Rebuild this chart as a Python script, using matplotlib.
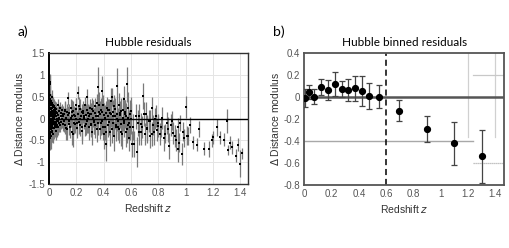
import numpy as np
import matplotlib.pyplot as plt

# panel a) individual supernova residuals
z_low = [0.004,0.005,0.006,0.007,0.008,0.009,0.010,0.011,0.012,0.013,
         0.014,0.015,0.016,0.017,0.018,0.019,0.020,0.021,0.022,0.023,
         0.024,0.025,0.026,0.027,0.028,0.029,0.030,0.031,0.032,0.034,
         0.036,0.038,0.040,0.042,0.044,0.046,0.048,0.050,0.052,0.054,
         0.056,0.058,0.060,0.062,0.064,0.066,0.068,0.070,0.073,0.076,
         0.079,0.082,0.085,0.088,0.091,0.094,0.097,0.100,0.103,0.106]
mu_low = [0.83,0.35,-0.20,0.45,0.10,-0.35,0.80,0.22,-0.05,0.30,
          -0.25,0.05,0.15,-0.40,0.40,0.00,-0.15,0.25,-0.30,0.12,
          0.50,-0.10,0.05,-0.22,0.30,0.18,-0.05,-0.35,0.08,0.20,
          -0.12,0.02,0.28,-0.20,0.10,-0.08,0.15,-0.28,0.05,0.22,
          -0.15,0.00,0.12,-0.05,0.30,-0.20,0.08,-0.10,0.18,0.02,
          -0.15,0.25,0.05,-0.08,0.12,-0.02,0.20,0.10,-0.12,0.06]
err_low = [0.18,0.22,0.30,0.15,0.25,0.32,0.20,0.18,0.28,0.22,
           0.25,0.20,0.18,0.30,0.16,0.22,0.26,0.18,0.24,0.20,
           0.15,0.22,0.18,0.25,0.20,0.16,0.24,0.20,0.18,0.15,
           0.20,0.18,0.16,0.22,0.15,0.20,0.14,0.22,0.18,0.15,
           0.18,0.16,0.14,0.20,0.15,0.18,0.16,0.20,0.14,0.18,
           0.16,0.14,0.18,0.15,0.16,0.20,0.14,0.18,0.16,0.15]

z_low2 = [0.003,0.0045,0.0055,0.0065,0.0075,0.0085,0.0095,0.0105,0.0115,0.0125,
          0.0135,0.0145,0.0155,0.0165,0.0175,0.0185,0.0195,0.0205,0.0215,0.0225,
          0.0235,0.0245,0.0255,0.0265,0.0275,0.0285,0.0295,0.033,0.035,0.037,
          0.039,0.041,0.043,0.045,0.047,0.051,0.055,0.059,0.063,0.067]
mu_low2 = [0.20,-0.45,0.55,-0.10,0.25,0.05,-0.25,0.40,0.15,-0.30,
           0.10,-0.15,0.30,0.00,-0.20,0.22,-0.05,0.12,0.35,-0.18,
           0.08,-0.28,0.18,0.02,-0.12,0.26,-0.08,0.10,-0.22,0.15,
           -0.02,0.20,-0.15,0.05,0.25,-0.10,0.14,-0.20,0.08,-0.05]
err_low2 = [0.25,0.28,0.20,0.30,0.22,0.25,0.30,0.18,0.22,0.28,
            0.20,0.25,0.18,0.22,0.26,0.20,0.24,0.22,0.18,0.25,
            0.20,0.26,0.18,0.22,0.24,0.16,0.22,0.20,0.24,0.18,
            0.20,0.16,0.22,0.18,0.15,0.20,0.16,0.22,0.18,0.16]

z_mid = [0.11,0.115,0.12,0.125,0.13,0.135,0.14,0.145,0.15,0.155,
         0.16,0.165,0.17,0.175,0.18,0.185,0.19,0.195,0.20,0.205,
         0.21,0.215,0.22,0.225,0.23,0.235,0.24,0.245,0.25,0.255,
         0.26,0.265,0.27,0.275,0.28,0.285,0.29,0.295,0.30,0.305,
         0.31,0.315,0.32,0.325,0.33,0.335,0.34,0.345,0.35,0.355,
         0.36,0.365,0.37,0.375,0.38,0.385,0.39,0.395,0.40,0.405,
         0.41,0.415,0.42,0.425,0.43,0.435,0.44,0.445,0.45,0.455,
         0.46,0.465,0.47,0.475,0.48,0.485,0.49,0.495,0.50,0.505,
         0.51,0.515,0.52,0.525,0.53,0.535,0.54,0.545,0.55,0.555,
         0.56,0.565,0.57,0.575,0.58,0.585,0.59,0.595,0.60,0.605]
mu_mid = [0.10,-0.15,0.20,0.02,-0.25,0.15,0.46,-0.05,0.12,-0.20,
          0.25,0.05,-0.30,0.18,-0.10,0.08,-0.12,0.30,0.00,-0.22,
          0.59,0.10,-0.08,0.22,-0.15,0.05,0.15,-0.28,0.12,0.02,
          -0.18,0.30,0.08,-0.05,0.49,0.12,-0.20,0.05,0.25,-0.12,
          0.10,-0.30,0.02,0.18,-0.08,0.28,-0.15,0.05,0.35,0.72,
          -0.10,0.15,0.10,-0.25,0.20,0.62,-0.05,0.30,-0.35,0.08,
          -0.20,0.12,-0.58,0.25,0.05,-0.15,0.20,-0.30,0.10,0.40,
          0.49,-0.10,0.15,-0.40,0.05,0.22,-0.20,0.10,0.75,-0.05,
          0.30,-0.25,0.08,-0.12,0.18,-0.35,0.02,0.45,-0.10,0.15,
          -0.30,0.05,0.79,-0.15,0.25,-0.45,0.10,-0.20,0.00,-0.58]
err_mid = [0.15,0.20,0.18,0.22,0.25,0.18,0.15,0.20,0.22,0.25,
           0.20,0.18,0.30,0.22,0.25,0.20,0.22,0.18,0.25,0.22,
           0.15,0.20,0.28,0.22,0.25,0.20,0.18,0.30,0.22,0.25,
           0.22,0.20,0.25,0.28,0.18,0.22,0.30,0.25,0.20,0.28,
           0.25,0.30,0.22,0.25,0.28,0.20,0.30,0.25,0.22,0.45,
           0.28,0.25,0.30,0.22,0.28,0.35,0.30,0.25,0.35,0.28,
           0.30,0.28,0.40,0.25,0.30,0.28,0.25,0.32,0.30,0.30,
           0.20,0.30,0.28,0.35,0.30,0.25,0.32,0.30,0.40,0.30,
           0.28,0.32,0.30,0.28,0.30,0.35,0.30,0.30,0.32,0.28,
           0.35,0.30,0.40,0.32,0.35,0.30,0.32,0.30,0.35,0.30]

z_mid2 = [0.108,0.118,0.128,0.138,0.148,0.158,0.168,0.178,0.188,0.198,
          0.208,0.218,0.228,0.238,0.248,0.258,0.268,0.278,0.288,0.298,
          0.308,0.318,0.328,0.338,0.348,0.358,0.368,0.378,0.388,0.398,
          0.408,0.418,0.428,0.438,0.448,0.458,0.468,0.478,0.488,0.498,
          0.508,0.518,0.528,0.538,0.548,0.558,0.568,0.578,0.588,0.598,
          0.615,0.635,0.655,0.675,0.695,0.715,0.735,0.755,0.775,0.795]
mu_mid2 = [-0.05,0.18,-0.22,0.08,-0.12,0.02,0.15,-0.35,0.05,0.22,
           -0.10,0.28,0.00,-0.20,0.18,0.06,-0.12,0.20,-0.02,0.10,
           -0.15,0.22,-0.05,0.12,-0.25,0.05,0.30,-0.10,0.15,-0.20,
           0.02,-0.30,0.20,-0.08,0.12,-0.25,0.05,0.28,-0.15,0.00,
           -0.20,0.12,-0.30,0.20,-0.05,0.10,-0.25,0.02,-0.10,0.18,
           -0.20,0.05,-0.30,-0.12,0.10,-0.22,-0.05,-0.35,0.00,-0.18]
err_mid2 = [0.25,0.22,0.28,0.20,0.25,0.22,0.28,0.30,0.22,0.25,
            0.28,0.22,0.25,0.30,0.22,0.28,0.25,0.22,0.30,0.25,
            0.28,0.25,0.30,0.22,0.28,0.25,0.30,0.28,0.25,0.30,
            0.28,0.32,0.25,0.30,0.28,0.30,0.32,0.25,0.30,0.28,
            0.30,0.28,0.32,0.30,0.28,0.32,0.30,0.28,0.30,0.32,
            0.30,0.28,0.30,0.25,0.28,0.30,0.25,0.28,0.25,0.25]

z_high = [0.62,0.64,0.65,0.66,0.67,0.68,0.69,0.70,0.71,0.72,
          0.73,0.74,0.75,0.76,0.77,0.78,0.79,0.80,0.81,0.82,
          0.83,0.84,0.85,0.86,0.87,0.88,0.89,0.90,0.91,0.92,
          0.93,0.94,0.945,0.95,0.96,0.97,0.98,0.99,1.00,1.01,
          1.02,1.03,1.05,1.08,1.10,1.13,1.17,1.19,1.20,1.23,
          1.25,1.28,1.30,1.31,1.32,1.34,1.37,1.38,1.40,1.41]
mu_high = [-0.58,-0.77,-0.10,0.05,-0.30,-0.20,0.51,-0.35,0.10,-0.25,
           -0.05,-0.40,0.24,-0.15,-0.30,0.05,-0.27,-0.10,-0.35,-0.20,
           0.02,-0.45,-0.35,-0.10,-0.25,-0.62,-0.15,-0.05,-0.33,-0.40,
           -0.50,-0.20,-0.69,-0.55,-0.10,-0.81,-0.30,-0.45,0.26,-0.39,
           -0.40,-0.15,-0.54,-0.60,-0.24,-0.69,-0.69,-0.50,-0.43,-0.20,
           -0.43,-0.49,-0.05,-0.72,-0.55,-0.66,-0.85,-0.60,-1.03,-0.80]
err_high = [0.30,0.35,0.30,0.28,0.30,0.25,0.30,0.25,0.28,0.30,
            0.25,0.28,0.25,0.22,0.30,0.25,0.25,0.20,0.25,0.22,
            0.25,0.30,0.22,0.25,0.28,0.30,0.25,0.22,0.25,0.25,
            0.25,0.22,0.30,0.22,0.18,0.25,0.22,0.20,0.25,0.22,
            0.20,0.18,0.15,0.15,0.18,0.15,0.18,0.15,0.15,0.20,
            0.15,0.15,0.28,0.12,0.15,0.15,0.15,0.15,0.30,0.12]

# panel b) binned residuals
z_bin = [0.007,0.034,0.071,0.125,0.171,0.225,0.274,0.323,0.372,0.424,0.472,0.548,
         0.695,0.898,1.099,1.30]
mu_bin = [-0.012,0.042,0.003,0.088,0.060,0.118,0.073,0.063,0.079,0.054,0.006,0.003,
          -0.127,-0.293,-0.420,-0.540]
err_bin = [0.08,0.065,0.07,0.07,0.09,0.11,0.07,0.10,0.115,0.14,0.12,0.105,
           0.095,0.118,0.196,0.24]

plt.rcParams['font.family'] = ['Liberation Sans', 'DejaVu Sans']
tick_col = '#555555'

fig = plt.figure(figsize=(5.1, 2.48), dpi=100)
ax1 = fig.add_axes([0.096, 0.258, 0.390, 0.528])
ax2 = fig.add_axes([0.597, 0.254, 0.392, 0.533])

# ---- a)
z_all = z_low + z_low2 + z_mid + z_mid2 + z_high
mu_all = mu_low + mu_low2 + mu_mid + mu_mid2 + mu_high
err_all = err_low + err_low2 + err_mid + err_mid2 + err_high
ax1.errorbar(z_all, mu_all, yerr=err_all, fmt='none', ecolor='#7a7a7a',
             elinewidth=0.9, capsize=0, zorder=2)
ax1.plot(z_all, mu_all, 's', ms=1.6, color='black', mew=0, zorder=3)
ax1.axhline(0, color='black', lw=1.0, zorder=4)
ax1.set_xlim(0, 1.454)
ax1.set_ylim(-1.5, 1.5)
ax1.set_xticks(np.arange(0, 1.41, 0.2))
ax1.set_xticklabels(['0', '0.2', '0.4', '0.6', '0.8', '1', '1.2', '1.4'])
ax1.set_yticks([-1.5, -1, -0.5, 0, 0.5, 1, 1.5])
ax1.set_yticklabels(['-1.5', '-1', '-0.5', '0', '0.5', '1', '1.5'])
ax1.grid(True, color='#e4e4e4', lw=0.7, zorder=0)
ax1.set_axisbelow(True)
ax1.set_title('Hubble residuals', fontsize=8.5, family=['Lato', 'DejaVu Sans'], pad=5)
ax1.set_ylabel('$\\Delta$ Distance modulus', fontsize=7.5, color='#333333', labelpad=2)
ax1.set_xlabel('Redshift $z$', fontsize=7.5, color='#333333', labelpad=3)
for s in ax1.spines.values():
    s.set_color('#333333')
    s.set_linewidth(1.0)
ax1.spines['left'].set_linewidth(1.4)
ax1.spines['left'].set_color('black')

# ---- b)
ax2.plot([1.2, 1.2], [0.4, -0.36], color='#d0d0d0', lw=0.9, zorder=1)
ax2.plot([1.4, 1.4], [0.4, -0.36], color='#d0d0d0', lw=0.9, zorder=1)
ax2.plot([0, 1.234], [-0.4, -0.4], color='#a8a8a8', lw=1.0, zorder=1)
ax2.plot([1.234, 1.47], [0.2, 0.2], color='#c8c8c8', lw=0.9, zorder=1)
ax2.plot([1.234, 1.47], [-0.6, -0.6], color='#b0b0b0', lw=0.9, ls=(0, (1, 0.6)), zorder=1)
ax2.axhline(0, color='#555555', lw=1.8, zorder=2)
ax2.axvline(0.6, color='black', lw=1.1, ls=(0, (4, 2.5)), zorder=2)
ax2.errorbar(z_bin, mu_bin, yerr=err_bin, fmt='o', ms=4.2, color='black',
             ecolor='#444444', elinewidth=0.9, capsize=2.2, capthick=0.9, zorder=3)
ax2.set_xlim(0, 1.468)
ax2.set_ylim(-0.8, 0.4)
ax2.set_xticks(np.arange(0, 1.41, 0.2))
ax2.set_xticklabels(['0', '0.2', '0.4', '0.6', '0.8', '1', '1.2', '1.4'])
ax2.set_yticks([-0.8, -0.6, -0.4, -0.2, 0, 0.2, 0.4])
ax2.set_yticklabels(['-0.8', '-0.6', '-0.4', '-0.2', '0', '0.2', '0.4'])
ax2.set_title('Hubble binned residuals', fontsize=8.5, family=['Lato', 'DejaVu Sans'], pad=5)
ax2.set_ylabel('$\\Delta$ Distance modulus', fontsize=7.5, color='#333333', labelpad=2)
ax2.set_xlabel('Redshift $z$', fontsize=7.5, color='#333333', labelpad=3)
for s in ax2.spines.values():
    s.set_color('#555555')
    s.set_linewidth(1.3)

for ax in (ax1, ax2):
    ax.tick_params(length=0, labelsize=7, labelcolor=tick_col, pad=3)

fig.text(0.034, 0.855, 'a)', fontsize=10, family=['Lato', 'DejaVu Sans'])
fig.text(0.535, 0.855, 'b)', fontsize=10, family=['Lato', 'DejaVu Sans'])

fig.savefig('out.png', dpi=100)
